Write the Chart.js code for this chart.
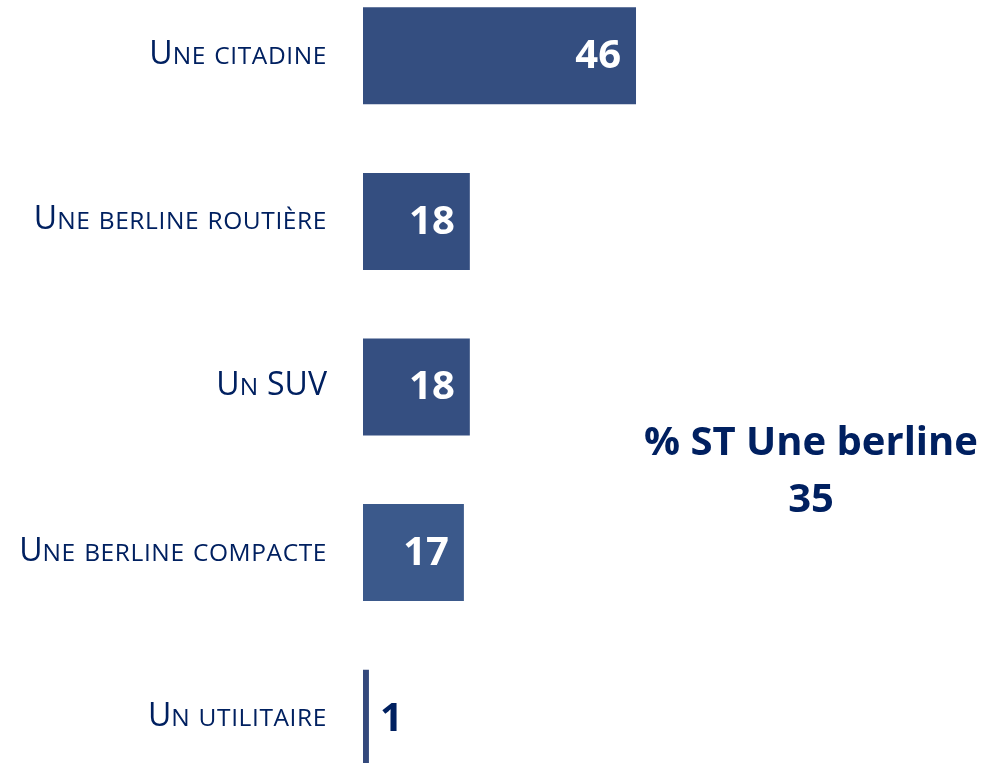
<!DOCTYPE html>
<html lang="fr">
<head>
<meta charset="utf-8">
<script src="https://cdn.jsdelivr.net/npm/chart.js@4/dist/chart.umd.min.js"></script>
<style>
    html, body { margin: 0; padding: 0; background: #ffffff; overflow: hidden; }
    body { width: 984px; height: 763px; position: relative; }
    #wrap { position: absolute; left: 0; top: -27px; width: 984px; height: 828px; }
    #note {
        position: absolute; left: 611px; width: 400px; top: 411px;
        text-align: center; color: #002060;
        font: bold 40px "Open Sans", sans-serif; line-height: 57px;
    }
</style>
</head>
<body>
<div id="wrap"><canvas id="carChart"></canvas></div>
<div id="note"></div>

<script>
/* ===== données ===== */
const categories = ["Une citadine", "Une berline routière", "Un SUV", "Une berline compacte", "Un utilitaire"];
const values = [46, 18, 18, 17, 1];
const barColors = ["#344e80", "#344e80", "#354f81", "#3b598b", "#34497c"];
const noteLabel = "% ST Une berline";
const noteValue = 35;

const navy = "#002060";

document.getElementById("note").innerHTML = noteLabel + "<br>" + noteValue;

/* étiquettes en petites capitales, dessinées à gauche des barres */
const smallCapsLabels = {
    id: "smallCapsLabels",
    afterDraw(chart) {
        const ctx = chart.ctx;
        const yScale = chart.scales.y;
        const big = '32px "Open Sans", sans-serif';
        const small = '24.5px "Open Sans", sans-serif';
        ctx.save();
        ctx.fillStyle = navy;
        ctx.textBaseline = "alphabetic";
        categories.forEach((label, i) => {
            // découpe en morceaux majuscules / minuscules
            const runs = [];
            for (const ch of label) {
                const isLow = ch !== ch.toUpperCase();
                const last = runs[runs.length - 1];
                if (last && last.low === isLow) last.text += ch;
                else runs.push({ low: isLow, text: ch });
            }
            let total = 0;
            runs.forEach(r => {
                r.text = r.text.toUpperCase();
                ctx.font = r.low ? small : big;
                r.w = ctx.measureText(r.text).width + (r.low ? r.text.length * 0.6 : 0);
                total += r.w;
            });
            let x = 327 - total;
            const y = yScale.getPixelForValue(i) + 8;
            runs.forEach(r => {
                ctx.font = r.low ? small : big;
                if (r.low) {
                    // léger espacement entre les petites capitales
                    for (const ch of r.text) {
                        ctx.fillText(ch, x, y);
                        x += ctx.measureText(ch).width + 0.6;
                    }
                } else {
                    ctx.fillText(r.text, x, y);
                    x += r.w;
                }
            });
        });
        ctx.restore();
    }
};

/* valeurs dans les barres (ou à côté si la barre est trop courte) */
const valueLabels = {
    id: "valueLabels",
    afterDatasetsDraw(chart) {
        const ctx = chart.ctx;
        const meta = chart.getDatasetMeta(0);
        ctx.save();
        ctx.font = 'bold 40px "Open Sans", sans-serif';
        ctx.textBaseline = "middle";
        meta.data.forEach((bar, i) => {
            const txt = String(values[i]);
            if (bar.x - bar.base > 60) {
                ctx.fillStyle = "#ffffff";
                ctx.textAlign = "right";
                ctx.fillText(txt, bar.x - 15, bar.y + 1);
            } else {
                ctx.fillStyle = navy;
                ctx.textAlign = "left";
                ctx.fillText(txt, bar.x + 11, bar.y + 1);
            }
        });
        ctx.restore();
    }
};

new Chart(document.getElementById("carChart"), {
    type: "bar",
    data: {
        labels: categories,
        datasets: [{
            data: values,
            backgroundColor: barColors,
            borderWidth: 0,
            categoryPercentage: 1,
            barPercentage: 0.586
        }]
    },
    options: {
        indexAxis: "y",
        responsive: true,
        maintainAspectRatio: false,
        animation: false,
        layout: { padding: { left: 363, right: 27.5, top: 0, bottom: 0 } },
        plugins: {
            legend: { display: false },
            tooltip: { enabled: false }
        },
        scales: {
            x: { display: false, min: 0, max: 100 },
            y: { display: false }
        }
    },
    plugins: [smallCapsLabels, valueLabels]
});
</script>
</body>
</html>
